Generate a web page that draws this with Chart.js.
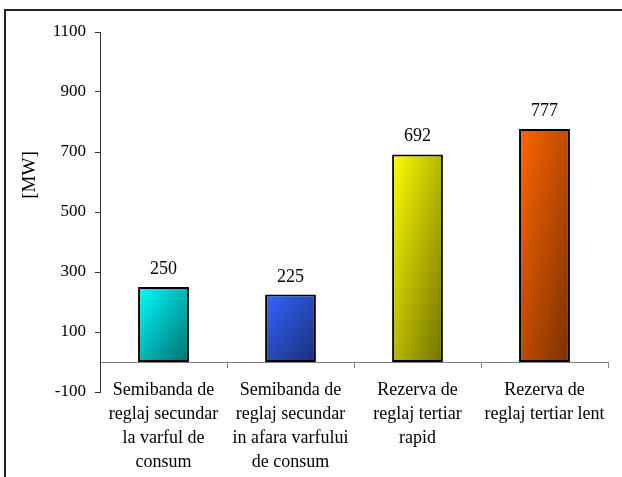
<!DOCTYPE html>
<html>
<head>
<meta charset="utf-8">
<script src="https://cdn.jsdelivr.net/npm/chart.js@4.4.1/dist/chart.umd.min.js"></script>
<style>
  html, body { margin: 0; padding: 0; background: #fff; }
  #wrap { position: relative; width: 622px; height: 477px; overflow: hidden; }
  #frame { position: absolute; left: 4px; top: 9px; width: 700px; height: 600px;
           border-top: 2px solid #222; border-left: 2px solid #222; box-sizing: border-box; }
  canvas { position: absolute; left: 0; top: 0; }
</style>
</head>
<body>
<div id="wrap">
  <div id="frame"></div>
  <canvas id="c" width="622" height="477"></canvas>
</div>
<script>
const categories = [
  ["Semibanda de", "reglaj secundar", "la varful de", "consum"],
  ["Semibanda de", "reglaj secundar", "in afara varfului", "de consum"],
  ["Rezerva de", "reglaj tertiar", "rapid"],
  ["Rezerva de", "reglaj tertiar lent"]
];
const values = [250, 225, 692, 777];
const yTicks = [-100, 100, 300, 500, 700, 900, 1100];
const yTitle = "[MW]";
const lightColors = ["#00ffff", "#3366ff", "#ffff00", "#ff6600"];
const darkColors  = ["#006e6e", "#1a2d78", "#707000", "#7a3000"];

const FONT = "'Liberation Serif', 'Times New Roman', serif";

function barGradient(ctx) {
  const chart = ctx.chart;
  const i = ctx.dataIndex;
  if (!chart.chartArea || i === undefined) return lightColors[0];
  const xs = chart.scales.x, ys = chart.scales.y;
  const cx = xs.getPixelForValue(i);
  const w = (xs.width / categories.length) * 0.4;
  const x0 = cx - w / 2;
  const y0 = ys.getPixelForValue(values[i]);
  const h = ys.getPixelForValue(0) - y0;
  // shape-relative diagonal gradient: value = (u + v) / 2
  const t = (2 * w * h) / (h * h + w * w);
  const g = chart.ctx.createLinearGradient(x0, y0, x0 + t * h, y0 + t * w);
  g.addColorStop(0, lightColors[i]);
  g.addColorStop(1, darkColors[i]);
  return g;
}

const valueLabels = {
  id: 'valueLabels',
  afterDatasetsDraw(chart) {
    const c = chart.ctx;
    const meta = chart.getDatasetMeta(0);
    c.save();
    c.font = "18px " + FONT;
    c.fillStyle = "#000";
    c.textAlign = "center";
    c.textBaseline = "alphabetic";
    meta.data.forEach((el, i) => {
      c.fillText(String(values[i]), el.x, el.y - 13);
    });
    c.restore();
  }
};

const axisTitle = {
  id: 'axisTitle',
  afterDraw(chart) {
    const c = chart.ctx;
    c.save();
    c.translate(30, 175);
    c.rotate(-Math.PI / 2);
    c.font = "19px " + FONT;
    c.fillStyle = "#000";
    c.textAlign = "center";
    c.textBaseline = "middle";
    c.fillText(yTitle, 0, 0);
    c.restore();
  }
};

new Chart(document.getElementById('c'), {
  type: 'bar',
  data: {
    labels: categories,
    datasets: [{
      data: values,
      backgroundColor: barGradient,
      borderColor: "#000",
      borderWidth: 2,
      borderSkipped: false,
      categoryPercentage: 0.4,
      barPercentage: 1.0
    }]
  },
  options: {
    responsive: false,
    animation: false,
    devicePixelRatio: 1,
    layout: { padding: { top: 32, bottom: 85, left: 0, right: 14 } },
    plugins: { legend: { display: false }, tooltip: { enabled: false } },
    scales: {
      x: {
        position: { y: 0 },
        offset: true,
        border: { display: true, color: "#808080", width: 1 },
        grid: { drawOnChartArea: false, drawTicks: true, tickLength: 5, color: "#808080", offset: true },
        ticks: { color: "#000", font: { family: FONT, size: 18, lineHeight: 1.33 }, padding: 11, maxRotation: 0, autoSkip: false }
      },
      y: {
        min: -100,
        max: 1100,
        afterBuildTicks: (s) => { s.ticks = yTicks.map(v => ({ value: v })); },
        afterFit: (s) => { s.width = 100; },
        border: { display: true, color: "#333", width: 1 },
        grid: { drawOnChartArea: false, drawTicks: true, tickLength: 5, color: "#333" },
        ticks: { color: "#000", font: { family: FONT, size: 17 }, padding: 9, callback: (v) => String(v) }
      }
    }
  },
  plugins: [valueLabels, axisTitle]
});
</script>
</body>
</html>
